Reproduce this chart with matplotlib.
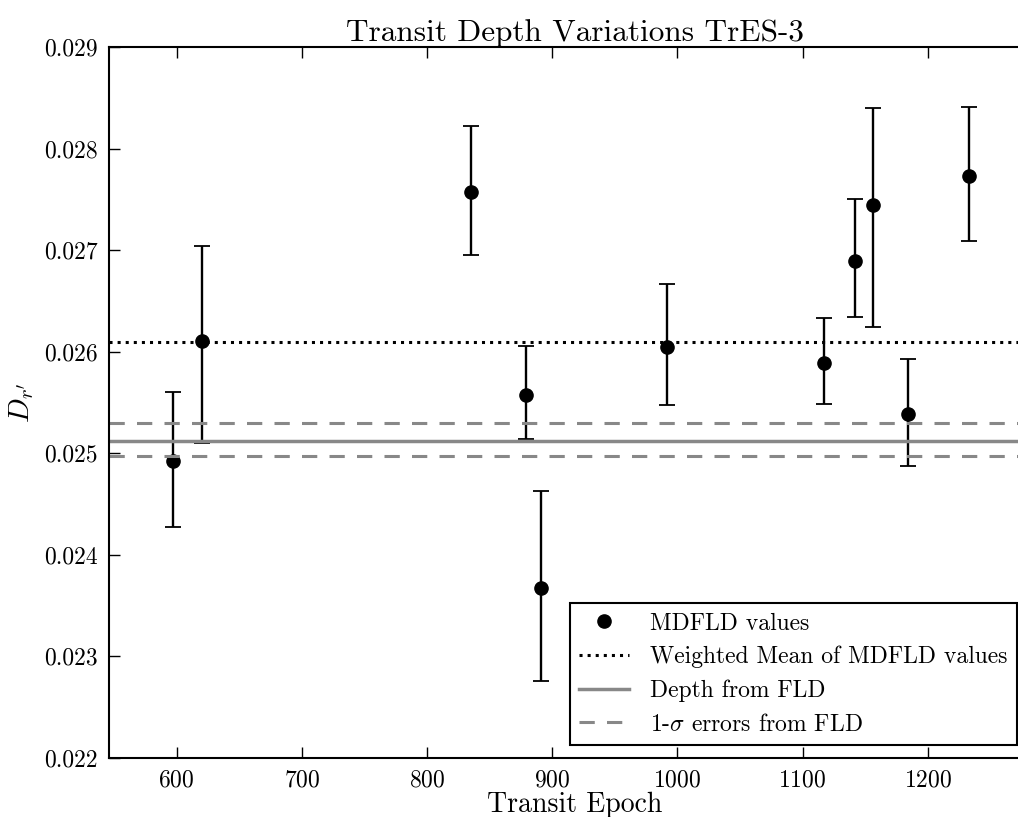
import numpy as np
import matplotlib
matplotlib.use("Agg")
import matplotlib.pyplot as plt

plt.rcParams['font.family'] = 'serif'
plt.rcParams['font.serif'] = ['cmr10']
plt.rcParams['mathtext.fontset'] = 'cm'
plt.rcParams['axes.unicode_minus'] = False
plt.rcParams['axes.formatter.use_mathtext'] = True

# transit epochs, depths and error bar ends
epoch = [597, 620, 835, 879, 891, 992, 1117, 1142, 1156, 1184, 1233]
depth = [0.024924, 0.026106, 0.027572, 0.025574, 0.023674, 0.026046, 0.025889,
         0.026893, 0.027444, 0.025387, 0.027730]
upper = [0.025603, 0.027041, 0.028222, 0.026056, 0.024629, 0.026667, 0.026332,
         0.027503, 0.028399, 0.025928, 0.028409]
lower = [0.024274, 0.025101, 0.026952, 0.025141, 0.022758, 0.025475, 0.025485,
         0.026342, 0.026243, 0.024875, 0.027090]

wmean = 0.02610
fld_depth = 0.02512
fld_hi = 0.02530
fld_lo = 0.02497

depth = np.array(depth)
yerr = [depth - np.array(lower), np.array(upper) - depth]

fig = plt.figure(figsize=(10.18, 8.17), dpi=100)
ax = fig.add_axes([0.107, 0.0722, 0.915, 0.8703])

ax.errorbar(epoch, depth, yerr=yerr, fmt='none', ecolor='k', elinewidth=1.7,
            capsize=6, capthick=1.3)
ax.plot(epoch, depth, 'o', color='k', ms=9.5, label='MDFLD values')
ax.axhline(wmean, color='k', ls=':', lw=2.2, label='Weighted Mean of MDFLD values')
ax.axhline(fld_depth, color='#888888', ls='-', lw=2.5, label='Depth from FLD')
ax.axhline(fld_hi, color='#888888', ls=(0, (5, 4)), lw=2.2, label=r'1-$\sigma$ errors from FLD')
ax.axhline(fld_lo, color='#888888', ls=(0, (5, 4)), lw=2.2)

ax.set_xlim(546, 1290)
ax.set_ylim(0.022, 0.029)
ax.set_xticks([600, 700, 800, 900, 1000, 1100, 1200])
ax.set_yticks(np.arange(0.022, 0.0291, 0.001))
ax.set_yticklabels(['0.022', '0.023', '0.024', '0.025', '0.026', '0.027', '0.028', '0.029'])
ax.tick_params(direction='in', top=True, right=True, labelsize=17, length=8, width=1, pad=8)
for s in ax.spines.values():
    s.set_linewidth(1.5)

ax.set_title('Transit Depth Variations TrES-3', fontsize=22.5, pad=4)
ax.set_xlabel('Transit Epoch', fontsize=20, labelpad=0)
ax.set_ylabel(r"$D_{r'}$", fontsize=21, labelpad=6)

leg = ax.legend(loc='lower right', bbox_to_anchor=(0.999, 0.088), bbox_transform=fig.transFigure,
                fontsize=17, fancybox=False, framealpha=1, edgecolor='k', numpoints=1,
                borderaxespad=0, handlelength=2.1, handletextpad=0.9,
                labelspacing=0.48, borderpad=0.4)
leg.get_frame().set_linewidth(1.5)

fig.savefig('out.png', dpi=100)
